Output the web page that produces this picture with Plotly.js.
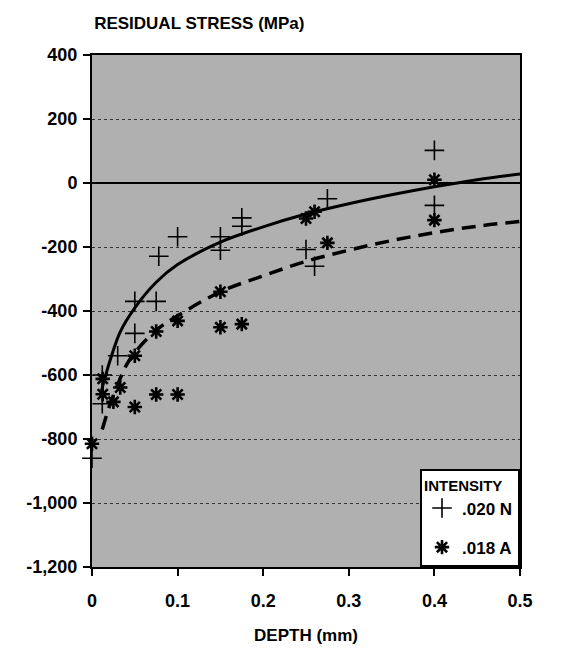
<!DOCTYPE html>
<html>
<head>
<meta charset="utf-8">
<script src="https://cdn.plot.ly/plotly-3.0.1.min.js"></script>
<style>html,body{margin:0;padding:0;background:#fff;}#chart{width:573px;height:653px;}</style>
</head>
<body>
<div id="chart"></div>
<script>
// Measured points, intensity .020 N (plus markers)
const nDepth = [0, 0.012, 0.012, 0.03, 0.05, 0.05, 0.075, 0.078, 0.1, 0.15, 0.15, 0.175, 0.175, 0.25, 0.26, 0.275, 0.4, 0.4];
const nStress = [-860, -600, -690, -540, -470, -370, -370, -229, -168, -168, -210, -109, -135, -208, -260, -49, 102, -70];
// Measured points, intensity .018 A (asterisk markers)
const aDepth = [0, 0.0125, 0.0125, 0.025, 0.033, 0.05, 0.05, 0.075, 0.075, 0.1, 0.1, 0.15, 0.15, 0.175, 0.25, 0.26, 0.275, 0.4, 0.4];
const aStress = [-815, -612, -660, -684, -639, -540, -700, -464, -661, -431, -661, -340, -451, -441, -111, -90, -187, 10, -116];
// Fitted curve for .020 N (solid)
const nFitDepth = [0.011, 0.015, 0.022, 0.033, 0.05, 0.075, 0.1, 0.15, 0.2, 0.25, 0.3, 0.35, 0.4, 0.45, 0.5];
const nFitStress = [-650, -610, -547, -465, -390, -310, -255, -185, -137, -97, -65, -37, -12, 10, 28];
// Fitted curve for .018 A (dashed)
const aFitDepth = [0.012, 0.02, 0.03, 0.04, 0.05, 0.075, 0.1, 0.15, 0.2, 0.25, 0.3, 0.35, 0.4, 0.45, 0.5];
const aFitStress = [-770, -700, -630, -570, -530, -460, -415, -340, -290, -245, -210, -180, -155, -135, -120];
// Axis ticks
const xTickVals = [0, 0.1, 0.2, 0.3, 0.4, 0.5];
const xTickText = ['0', '0.1', '0.2', '0.3', '0.4', '0.5'];
const yTickVals = [400, 200, 0, -200, -400, -600, -800, -1000, -1200];
const yTickText = ['400', '200', '0', '-200', '-400', '-600', '-800', '-1,000', '-1,200'];

const FONT = 'Liberation Sans, Arial, sans-serif';
const F = (s) => ({family: FONT, size: s, color: '#000', weight: 'bold'});

const traces = [
  {x: nFitDepth, y: nFitStress, mode: 'lines', line: {color: '#000', width: 3, shape: 'spline'}, showlegend: false, hoverinfo: 'skip'},
  {x: aFitDepth, y: aFitStress, mode: 'lines', line: {color: '#000', width: 3.5, shape: 'spline', dash: '14px,8px'}, showlegend: false, hoverinfo: 'skip'},
  {x: nDepth, y: nStress, mode: 'markers', name: '.020 N', legendgroup: 'n', marker: {symbol: 'cross-thin-open', size: 14, color: '#000', line: {color: '#000', width: 1.6}}, cliponaxis: false},
  {x: aDepth, y: aStress, mode: 'markers', name: '.018 A', legendgroup: 'a', marker: {symbol: 'asterisk-open', size: 12, color: '#000', line: {color: '#000', width: 2.6}}, cliponaxis: false}
];

const layout = {
  width: 573, height: 653,
  margin: {l: 92, r: 53, t: 55, b: 86},
  paper_bgcolor: '#fff',
  plot_bgcolor: '#b0b0b0',
  font: F(17),
  title: {text: 'RESIDUAL STRESS (MPa)', x: 0.005, xref: 'paper', xanchor: 'left', y: 0.965, yref: 'container', yanchor: 'middle', font: F(17)},
  xaxis: {
    range: [0, 0.5], tickvals: xTickVals, ticktext: xTickText,
    showgrid: false, zeroline: false,
    showline: true, linecolor: '#000', linewidth: 2, mirror: true,
    ticks: 'outside', ticklen: 7, tickwidth: 2, tickcolor: '#000',
    ticklabelstandoff: 9,
    tickfont: F(18),
    title: {text: 'DEPTH (mm)', standoff: 20, font: F(17)}
  },
  yaxis: {
    range: [-1200, 400], tickvals: yTickVals, ticktext: yTickText,
    showgrid: true, gridcolor: '#333', gridwidth: 1, griddash: 'dot',
    zeroline: true, zerolinecolor: '#000', zerolinewidth: 2,
    showline: true, linecolor: '#000', linewidth: 2, mirror: true,
    ticks: 'outside', ticklen: 7, tickwidth: 2, tickcolor: '#000',
    ticklabelstandoff: 2,
    tickfont: F(18)
  },
  legend: {
    x: 1, xanchor: 'right', y: 0, yanchor: 'bottom',
    bgcolor: '#fff', bordercolor: '#000', borderwidth: 2,
    font: F(17),
    title: {text: 'INTENSITY', font: F(15)},
    itemwidth: 30, tracegroupgap: 14
  },
  showlegend: true
};

Plotly.newPlot('chart', traces, layout, {displayModeBar: false, staticPlot: true});
</script>
</body>
</html>
